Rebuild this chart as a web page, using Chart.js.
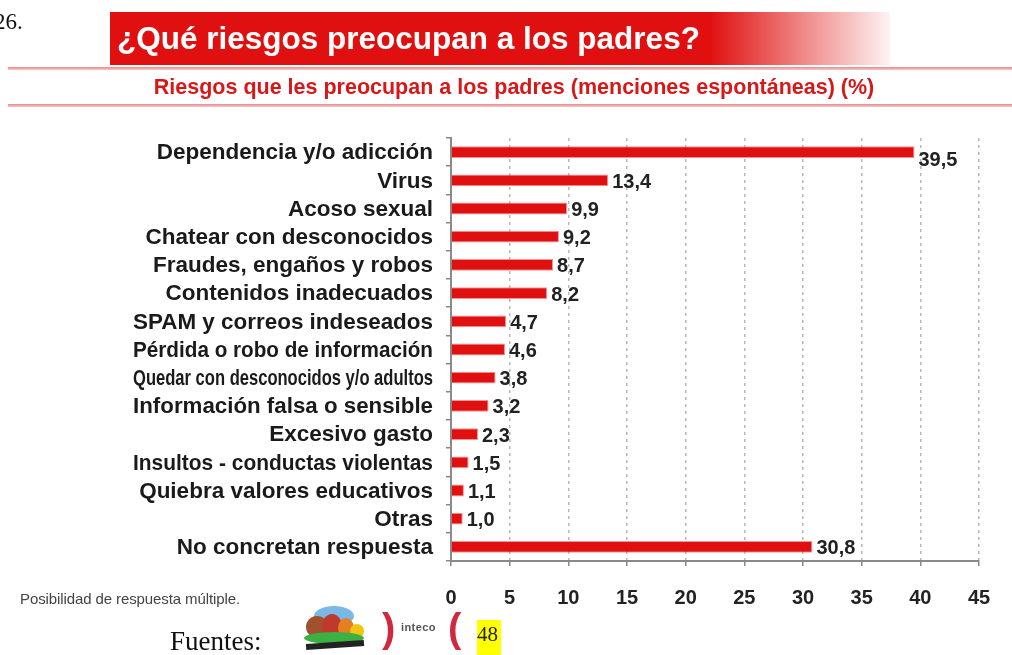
<!DOCTYPE html>
<html>
<head>
<meta charset="utf-8">
<script src="https://cdn.jsdelivr.net/npm/chart.js@4.4.1/dist/chart.umd.min.js"></script>
<style>
  html, body { margin: 0; padding: 0; background: #fff; }
  body { width: 1012px; height: 655px; position: relative; overflow: hidden; font-family: "Liberation Sans", Arial, sans-serif; }
  #chart { position: absolute; left: 0; top: 0; }
  .abs { position: absolute; white-space: nowrap; }
  #num { left: -6px; top: 9px; font: 23px "Liberation Serif", "Times New Roman", serif; color: #111; }
  #banner { left: 110px; top: 12px; width: 780px; height: 53px;
    background: linear-gradient(to right, #e01010 0%, #e01010 77%, rgba(224,16,16,0.45) 90%, rgba(224,16,16,0.05) 100%); }
  #title { left: 117px; top: 20px; font-weight: bold; font-size: 31.5px; color: #fff; }
  .rule { left: 8px; width: 1004px; height: 3px; background: linear-gradient(#e88a8a, #f6c8c8); }
  #sub { left: 0; width: 1028px; text-align: center; top: 75px; font-weight: bold; font-size: 21.5px; color: #d81818; }
  #note { left: 20px; top: 590px; font-size: 15px; color: #444; letter-spacing: -0.1px; }
  #fuentes { left: 170px; top: 626px; font: 27px "Liberation Serif", "Times New Roman", serif; color: #111; }
  .paren { font-size: 40px; color: #d0283c; font-weight: bold; top: 606px; }
  #inteco { left: 401px; top: 621px; font-size: 11px; font-weight: bold; color: #555; letter-spacing: 0.4px; }
  #page { left: 477px; top: 620px; width: 24px; height: 35px; background: #ffff00; font: 21px "Liberation Serif", serif; color: #222; line-height: 28px; }
  .blob { position: absolute; border-radius: 50%; }
</style>
</head>
<body>
<canvas id="chart" width="1012" height="655"></canvas>
<div class="abs" id="num">26.</div>
<div class="abs" id="banner"></div>
<div class="abs" id="title">¿Qué riesgos preocupan a los padres?</div>
<div class="abs rule" style="top:67px"></div>
<div class="abs" id="sub">Riesgos que les preocupan a los padres (menciones espontáneas) (%)</div>
<div class="abs rule" style="top:104px"></div>
<div class="abs" id="note">Posibilidad de respuesta múltiple.</div>
<div class="abs" id="fuentes">Fuentes:</div>
<div class="abs" style="left:300px; top:604px; width:68px; height:48px;">
  <div class="blob" style="left:14px; top:2px; width:40px; height:20px; background:#7ab8e8;"></div>
  <div class="blob" style="left:6px; top:12px; width:22px; height:22px; background:#a0522d;"></div>
  <div class="blob" style="left:22px; top:10px; width:20px; height:24px; background:#c0392b;"></div>
  <div class="blob" style="left:38px; top:14px; width:16px; height:20px; background:#e67e22;"></div>
  <div class="blob" style="left:50px; top:20px; width:14px; height:14px; background:#f1c40f;"></div>
  <div class="blob" style="left:4px; top:28px; width:60px; height:12px; background:#3cb043;"></div>
  <div style="position:absolute; left:6px; top:38px; width:58px; height:6px; background:#222; transform:rotate(-4deg);"></div>
</div>
<div class="abs paren" style="left:382px;">)</div>
<div class="abs" id="inteco">inteco</div>
<div class="abs paren" style="left:448px;">(</div>
<div class="abs" id="page">48</div>

<script>
const categories = [
  'Dependencia y/o adicción',
  'Virus',
  'Acoso sexual',
  'Chatear con desconocidos',
  'Fraudes, engaños y robos',
  'Contenidos inadecuados',
  'SPAM y correos indeseados',
  'Pérdida o robo de información',
  'Quedar con desconocidos y/o adultos',
  'Información falsa o sensible',
  'Excesivo gasto',
  'Insultos - conductas violentas',
  'Quiebra valores educativos',
  'Otras',
  'No concretan respuesta'
];
const values = [39.5, 13.4, 9.9, 9.2, 8.7, 8.2, 4.7, 4.6, 3.8, 3.2, 2.3, 1.5, 1.1, 1.0, 30.8];
const xTicks = [0, 5, 10, 15, 20, 25, 30, 35, 40, 45];

// category labels drawn by hand so long ones can be squeezed like in the original
const categoryLabels = {
  id: 'categoryLabels',
  afterDraw(chart) {
    const ctx = chart.ctx;
    const y = chart.scales.y;
    ctx.save();
    ctx.font = 'bold 22.5px "Liberation Sans", Arial, sans-serif';
    ctx.fillStyle = '#1a1a1a';
    ctx.textAlign = 'right';
    ctx.textBaseline = 'middle';
    categories.forEach((c, i) => {
      ctx.fillText(c, 433, y.getPixelForTick(i) + 1, 300);
    });
    ctx.restore();
  }
};

const valueLabels = {
  id: 'valueLabels',
  afterDatasetsDraw(chart) {
    const ctx = chart.ctx;
    const meta = chart.getDatasetMeta(0);
    ctx.save();
    ctx.font = 'bold 20px "Liberation Sans", Arial, sans-serif';
    ctx.fillStyle = '#222';
    ctx.textAlign = 'left';
    ctx.textBaseline = 'middle';
    meta.data.forEach((bar, i) => {
      const dy = i === 0 ? 8 : 2;
      ctx.fillText(values[i].toFixed(1).replace('.', ','), bar.x + 4, bar.y + dy);
    });
    ctx.restore();
  }
};

const ctx = document.getElementById('chart').getContext('2d');
new Chart(ctx, {
  type: 'bar',
  data: {
    labels: categories,
    datasets: [{
      data: values,
      backgroundColor: '#e01010',
      borderColor: 'rgba(240,120,120,0.8)',
      borderWidth: 1,
      borderSkipped: 'left',
      barPercentage: 0.42,
      categoryPercentage: 1
    }]
  },
  options: {
    indexAxis: 'y',
    responsive: false,
    animation: false,
    layout: { padding: { left: 0, right: 33, top: 138, bottom: 34 } },
    plugins: { legend: { display: false }, tooltip: { enabled: false } },
    scales: {
      x: {
        min: 0,
        max: 45,
        afterBuildTicks: scale => { scale.ticks = xTicks.map(v => ({ value: v })); },
        afterFit: scale => { scale.height = 60; },
        grid: {
          color: ctx => ctx.tick && ctx.tick.value === 0 ? 'rgba(0,0,0,0)' : '#b8b8b8',
          lineWidth: 1.5,
          tickLength: 5,
          tickColor: '#888',
          tickBorderDash: []
        },
        border: { display: true, color: '#8a8a8a', width: 2, dash: [3, 4] },
        ticks: {
          padding: 20,
          color: '#222',
          font: { family: '"Liberation Sans", Arial, sans-serif', size: 20, weight: 'bold' }
        }
      },
      y: {
        afterFit: scale => { scale.width = 451; },
        grid: {
          drawOnChartArea: false,
          offset: true,
          tickLength: 5,
          color: '#888',
          lineWidth: 1.5
        },
        border: { display: true, color: '#8a8a8a', width: 2 },
        ticks: { display: false }
      }
    }
  },
  plugins: [valueLabels, categoryLabels]
});
</script>
</body>
</html>
